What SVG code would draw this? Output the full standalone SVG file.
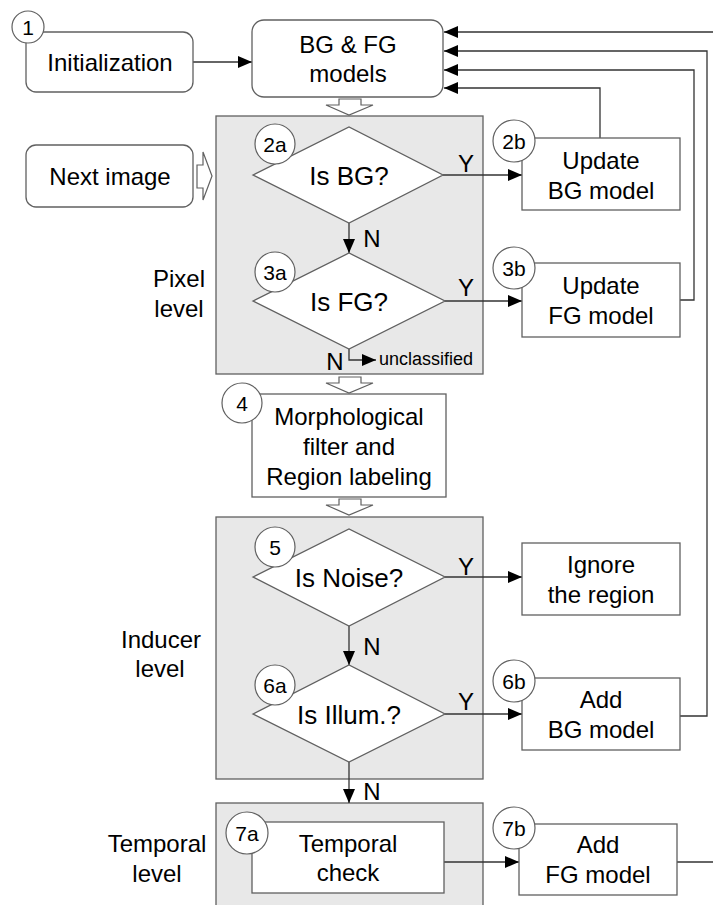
<svg xmlns="http://www.w3.org/2000/svg" width="713" height="905" viewBox="0 0 713 905">
<defs>
<marker id="ah" viewBox="0 0 14 12" refX="14" refY="6" markerWidth="14" markerHeight="12" markerUnits="userSpaceOnUse" orient="auto">
<path d="M0,0 L14,6 L0,12 Z" fill="#000"/>
</marker>
</defs>
<style>
text{font-family:"Liberation Sans",Arial,sans-serif;fill:#000;}
.t{font-size:24px;text-anchor:middle;}
.d{font-size:26px;text-anchor:middle;}
.n{font-size:21px;text-anchor:middle;}
.s{font-size:18px;}
.box{fill:#fff;stroke:#606060;stroke-width:1.3;}
.grp{fill:#e8e8e8;stroke:#606060;stroke-width:1.3;}
.cir{fill:#fff;stroke:#606060;stroke-width:1.2;}
.c{fill:none;stroke:#333;stroke-width:1.3;}
.ca{fill:none;stroke:#333;stroke-width:1.3;marker-end:url(#ah);}
.ho{fill:#fff;stroke:#606060;stroke-width:1.2;}
</style>

<g id="levels">
<rect class="grp" x="216" y="116" width="267" height="258"/>
<rect class="grp" x="216" y="517" width="267" height="262"/>
<rect class="grp" x="216" y="803" width="267" height="110"/>
<text class="t" x="179" y="287">Pixel</text>
<text class="t" x="179" y="317">level</text>
<text class="t" x="161" y="648">Inducer</text>
<text class="t" x="160" y="677">level</text>
<text class="t" x="157" y="852">Temporal</text>
<text class="t" x="157" y="882">level</text>
</g>

<g id="connectors">
<line class="ca" x1="193" y1="62" x2="252" y2="62"/>
<line class="ca" x1="443" y1="175" x2="522" y2="175"/>
<line class="ca" x1="349" y1="223" x2="349" y2="253"/>
<line class="ca" x1="445" y1="301" x2="522" y2="301"/>
<path class="ca" d="M349,349 V360 H376"/>
<line class="ca" x1="445" y1="577" x2="522" y2="577"/>
<line class="ca" x1="349" y1="626" x2="349" y2="665"/>
<line class="ca" x1="445" y1="714" x2="522" y2="714"/>
<line class="ca" x1="349" y1="762" x2="349" y2="803"/>
<line class="ca" x1="444" y1="862" x2="519" y2="862"/>
<path class="ca" d="M600,138 V88 H444"/>
<path class="ca" d="M680,300 H694 V70 H444"/>
<path class="ca" d="M680,716 H707 V51 H444"/>
<line class="ca" x1="713" y1="32" x2="444" y2="32"/>
<line class="c" x1="677" y1="862" x2="713" y2="862"/>
<path class="ho" d="M339,99 H361 V105 H373 L349,115 L326,105 H339 Z"/>
<path class="ho" d="M339,377 H361 V383 H373 L349,393 L326,383 H339 Z"/>
<path class="ho" d="M339,499 H361 V505 H373 L349,515 L326,505 H339 Z"/>
<path class="ho" d="M197,165 H203 V152 L212,176 L203,200 V188 H197 Z"/>
<text class="t" x="466" y="172">Y</text>
<text class="t" x="466" y="296">Y</text>
<text class="t" x="466" y="575">Y</text>
<text class="t" x="466" y="710">Y</text>
<text class="t" x="372" y="247">N</text>
<text class="t" x="335" y="370">N</text>
<text class="t" x="372" y="655">N</text>
<text class="t" x="372" y="800">N</text>
<text class="s" x="379" y="365">unclassified</text>
</g>

<g id="n1">
<rect class="box" x="26" y="32" width="167" height="60" rx="10"/>
<text class="t" x="110" y="71">Initialization</text>
<circle class="cir" cx="28" cy="27" r="16"/>
<text class="n" x="28" y="35">1</text>
</g>

<g id="nBGFG">
<rect class="box" x="252" y="20" width="191" height="77" rx="12"/>
<text class="t" x="348" y="53">BG &amp; FG</text>
<text class="t" x="348" y="82">models</text>
</g>

<g id="nNext">
<rect class="box" x="26" y="145" width="167" height="62" rx="10"/>
<text class="t" x="110" y="185">Next image</text>
</g>

<g id="n2a">
<path class="box" d="M253,175 L349,127 L443,175 L349,223 Z"/>
<text class="d" x="349" y="185">Is BG?</text>
<circle class="cir" cx="275" cy="144" r="20"/>
<text class="n" x="275" y="152">2a</text>
</g>

<g id="n2b">
<rect class="box" x="522" y="138" width="158" height="72"/>
<text class="t" x="601" y="169">Update</text>
<text class="t" x="601" y="199">BG model</text>
<circle class="cir" cx="514" cy="141" r="21"/>
<text class="n" x="514" y="149">2b</text>
</g>

<g id="n3a">
<path class="box" d="M253,301 L349,253 L445,301 L349,349 Z"/>
<text class="d" x="349" y="311">Is FG?</text>
<circle class="cir" cx="275" cy="272" r="20"/>
<text class="n" x="275" y="280">3a</text>
</g>

<g id="n3b">
<rect class="box" x="522" y="263" width="158" height="74"/>
<text class="t" x="601" y="294">Update</text>
<text class="t" x="601" y="324">FG model</text>
<circle class="cir" cx="514" cy="268" r="21"/>
<text class="n" x="514" y="276">3b</text>
</g>

<g id="n4">
<rect class="box" x="252" y="394" width="194" height="103"/>
<text class="t" x="349" y="425">Morphological</text>
<text class="t" x="349" y="455">filter and</text>
<text class="t" x="349" y="485">Region labeling</text>
<circle class="cir" cx="242" cy="403" r="20"/>
<text class="n" x="242" y="411">4</text>
</g>

<g id="n5">
<path class="box" d="M253,577 L349,529 L445,577 L349,626 Z"/>
<text class="d" x="349" y="587">Is Noise?</text>
<circle class="cir" cx="275" cy="547" r="20"/>
<text class="n" x="275" y="555">5</text>
</g>

<g id="nIgnore">
<rect class="box" x="522" y="543" width="158" height="72"/>
<text class="t" x="601" y="573">Ignore</text>
<text class="t" x="601" y="603">the region</text>
</g>

<g id="n6a">
<path class="box" d="M253,714 L349,665 L445,714 L349,762 Z"/>
<text class="d" x="349" y="724">Is Illum.?</text>
<circle class="cir" cx="275" cy="685" r="20"/>
<text class="n" x="275" y="693">6a</text>
</g>

<g id="n6b">
<rect class="box" x="522" y="678" width="158" height="72"/>
<text class="t" x="601" y="708">Add</text>
<text class="t" x="601" y="738">BG model</text>
<circle class="cir" cx="514" cy="681" r="21"/>
<text class="n" x="514" y="689">6b</text>
</g>

<g id="n7a">
<rect class="box" x="252" y="822" width="192" height="71"/>
<text class="t" x="348" y="852">Temporal</text>
<text class="t" x="348" y="881">check</text>
<circle class="cir" cx="247" cy="833" r="21"/>
<text class="n" x="247" y="841">7a</text>
</g>

<g id="n7b">
<rect class="box" x="519" y="824" width="158" height="71"/>
<text class="t" x="598" y="853">Add</text>
<text class="t" x="598" y="883">FG model</text>
<circle class="cir" cx="514" cy="828" r="21"/>
<text class="n" x="514" y="836">7b</text>
</g>
</svg>
